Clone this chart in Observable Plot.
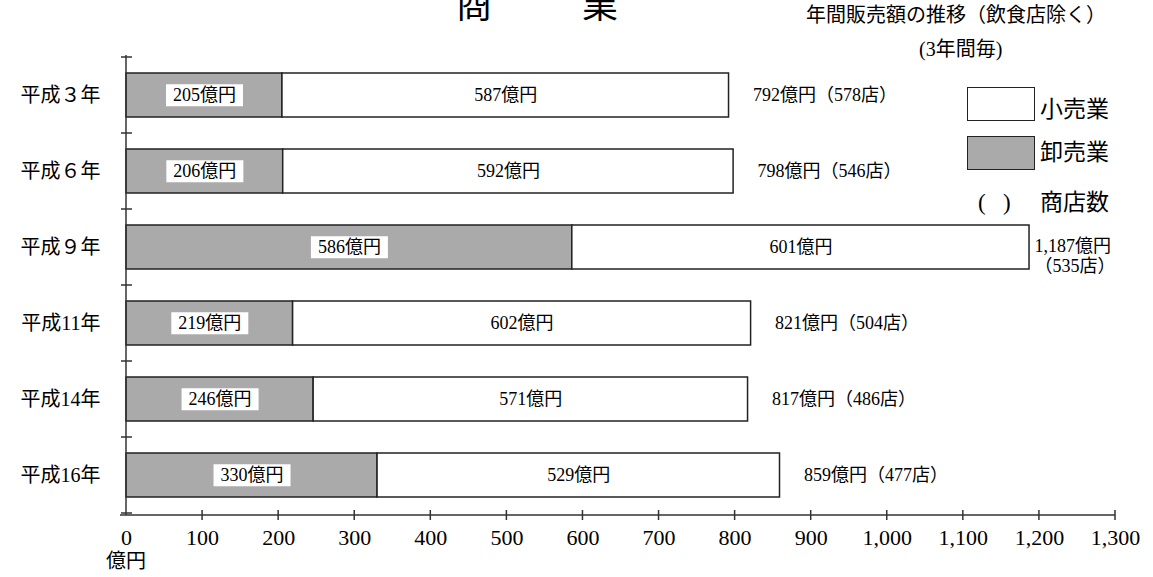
<!DOCTYPE html>
<html><head><meta charset="utf-8">
<script src="https://cdn.jsdelivr.net/npm/d3@7"></script>
<script src="https://cdn.jsdelivr.net/npm/@observablehq/plot@0.6"></script>
<style>
body{margin:0;background:#fff;}
#wrap{position:relative;width:1153px;height:577px;overflow:hidden;font-family:"Liberation Serif","Noto Sans CJK JP",serif;color:#000;}
.abs{position:absolute;white-space:nowrap;line-height:1;}
.box{position:absolute;border:1.5px solid #222;box-sizing:border-box;}
</style></head><body><div id="wrap">
<div class="abs" style="left:456px;top:-12px;font-size:36px;">商</div>
<div class="abs" style="left:582px;top:-12px;font-size:36px;">業</div>
<div class="abs" style="left:806px;top:5px;font-size:20px;">年間販売額の推移（飲食店除く）</div>
<div class="abs" style="left:919px;top:39px;font-size:20px;">(3年間毎)</div>
<div class="box" style="left:967px;top:87px;width:68px;height:34px;background:#fff;"></div>
<div class="abs" style="left:1040px;top:98px;font-size:23px;">小売業</div>
<div class="box" style="left:967px;top:136px;width:68px;height:34px;background:#aaaaaa;"></div>
<div class="abs" style="left:1040px;top:141px;font-size:23px;">卸売業</div>
<div class="abs" style="left:978px;top:191px;font-size:23px;">(</div>
<div class="abs" style="left:1003px;top:191px;font-size:23px;">)</div>
<div class="abs" style="left:1040px;top:191px;font-size:23px;">商店数</div>
<div class="abs" style="left:106px;top:551px;font-size:20px;">億円</div>
</div>
<script>
const years = ["平成３年","平成６年","平成９年","平成11年","平成14年","平成16年"];
const wholesale = [205, 206, 586, 219, 246, 330];
const retail = [587, 592, 601, 602, 571, 529];
const totals = [792, 798, 1187, 821, 817, 859];
const stores = [578, 546, 535, 504, 486, 477];
const xTicks = [0,100,200,300,400,500,600,700,800,900,1000,1100,1200,1300];
const seriesNames = ["卸売業","小売業"];
const seriesColors = ["#aaaaaa","#ffffff"];

const rows = years.flatMap((y, i) => [
  {year: y, type: seriesNames[0], value: wholesale[i]},
  {year: y, type: seriesNames[1], value: retail[i]}
]);
const totalRows = years.map((y, i) => ({year: y, total: totals[i], stores: stores[i]}));
const fmt = d3.format(",");
const xMax = xTicks[xTicks.length - 1];

function axesMark(index, scales, values, dimensions) {
  const {x, y} = scales;
  const g = d3.create("svg:g").attr("stroke", "#333").attr("stroke-width", 1.5).attr("fill", "none");
  const yBase = dimensions.height - dimensions.marginBottom;
  const yTop = dimensions.marginTop;
  const x0 = x(0);
  g.append("line").attr("x1", x0 - 6).attr("x2", x(xMax)).attr("y1", yBase).attr("y2", yBase);
  g.append("line").attr("x1", x0).attr("x2", x0).attr("y1", yTop).attr("y2", yBase);
  for (const t of xTicks) {
    if (t === 0) continue;
    g.append("line").attr("x1", x(t)).attr("x2", x(t)).attr("y1", yBase - 5).attr("y2", yBase + 5);
  }
  const dom = y.domain();
  const bw = y.bandwidth ? y.bandwidth() : 0;
  const step = y.step ? y.step() : (y(dom[1]) - y(dom[0]));
  const gap = (step - bw) / 2;
  const edges = dom.map(d => y(d) - gap);
  edges.push(y(dom[dom.length - 1]) + bw + gap);
  for (const e of edges) {
    if (Math.abs(e - yBase) < 1) continue;
    g.append("line").attr("x1", x0 - 5).attr("x2", x0 + 6).attr("y1", e).attr("y2", e);
  }
  return g.node();
}

const plot = Plot.plot({
  width: 1153,
  height: 577,
  marginLeft: 126,
  marginRight: 38,
  marginTop: 55,
  marginBottom: 62,
  style: {fontFamily: '"Liberation Serif","Noto Sans CJK JP",serif', fontSize: "18px", color: "#000", background: "transparent"},
  x: {domain: [0, xMax]},
  y: {domain: years, paddingInner: 0.426, paddingOuter: 0.213},
  color: {domain: seriesNames, range: seriesColors},
  marks: [
    Plot.barX(rows, Plot.stackX({x: "value", y: "year", fill: "type", stroke: "#222", strokeWidth: 1.5})),
    Plot.text(rows.filter(d => d.type === seriesNames[0]), Plot.stackX({x: "value", y: "year", z: "type", text: d => d.value + "億円", fill: "#000"})),
    Plot.text(rows, Plot.stackX({x: "value", y: "year", z: "type", text: d => d.type === seriesNames[1] ? d.value + "億円" : "", fill: "#000"})),
    Plot.text(totalRows.filter(d => d.total < 1000), {x: "total", y: "year", text: d => `${fmt(d.total)}億円（${d.stores}店）`, textAnchor: "start", dx: 24, fill: "#000"}),
    Plot.text(totalRows.filter(d => d.total >= 1000), {x: "total", y: "year", text: d => `${fmt(d.total)}億円\n（${d.stores}店）`, textAnchor: "start", dx: 5, dy: 8, lineHeight: 1.1, fill: "#000"}),
    Plot.axisX({ticks: xTicks, tickFormat: fmt, tickSize: 0, tickPadding: 14, fontSize: 22, label: null}),
    Plot.axisY({tickSize: 0, tickPadding: 26, fontSize: 20, label: null}),
    axesMark
  ]
});
plot.style.position = "absolute";
plot.style.left = "0px";
plot.style.top = "0px";
document.getElementById("wrap").prepend(plot);

// white background boxes behind wholesale labels (first text mark)
const textGroups = plot.querySelectorAll('g[aria-label="text"]');
if (textGroups.length) {
  textGroups[0].querySelectorAll("text").forEach(t => {
    const b = t.getBBox();
    const cy = b.y + b.height / 2;
    const r = document.createElementNS("http://www.w3.org/2000/svg", "rect");
    r.setAttribute("x", b.x - 7);
    r.setAttribute("width", b.width + 14);
    r.setAttribute("y", cy - 11);
    r.setAttribute("height", 22);
    r.setAttribute("fill", "#ffffff");
    r.setAttribute("stroke", "none");
    if (t.getAttribute("transform")) r.setAttribute("transform", t.getAttribute("transform"));
    t.parentNode.insertBefore(r, t);
  });
}
</script>
</body></html>
